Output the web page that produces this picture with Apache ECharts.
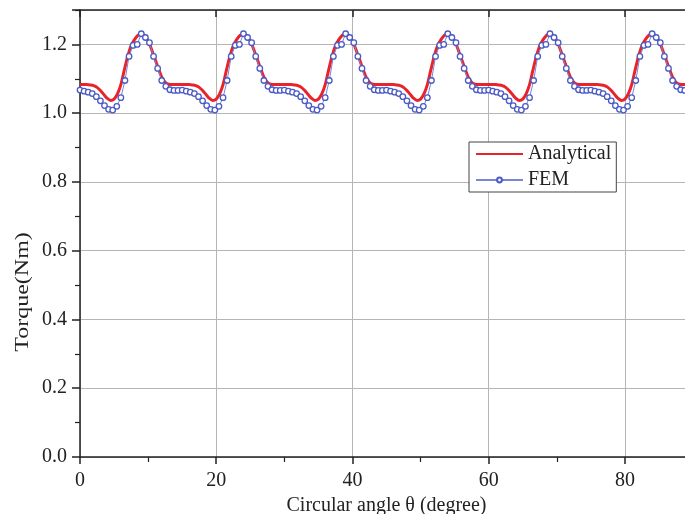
<!DOCTYPE html>
<html><head><meta charset="utf-8">
<script src="https://cdn.jsdelivr.net/npm/echarts@6/dist/echarts.min.js"></script>
<style>html,body{margin:0;padding:0;background:#fff}#c{width:685px;height:514px}</style>
</head><body><div id="c"></div>
<script>
// Sampling steps (degrees)
const analyticalStep = 0.5;
const femStep = 0.6;

// Analytical torque (Nm), 0..90 deg every 0.5 deg
const analytical = [
1.083,1.083,1.083,1.082,1.080,1.075,1.066,1.054,1.043,1.037,1.041,1.056,1.083,1.125,1.165,1.196,1.214,1.226,1.232,1.226,1.210,1.186,1.158,1.130,1.105,1.090,1.084,1.083,1.083,1.083,
1.083,1.083,1.083,1.082,1.080,1.075,1.066,1.054,1.043,1.037,1.041,1.056,1.083,1.125,1.165,1.196,1.214,1.226,1.232,1.226,1.210,1.186,1.158,1.130,1.105,1.090,1.084,1.083,1.083,1.083,
1.083,1.083,1.083,1.082,1.080,1.075,1.066,1.054,1.043,1.037,1.041,1.056,1.083,1.125,1.165,1.196,1.214,1.226,1.232,1.226,1.210,1.186,1.158,1.130,1.105,1.090,1.084,1.083,1.083,1.083,
1.083,1.083,1.083,1.082,1.080,1.075,1.066,1.054,1.043,1.037,1.041,1.056,1.083,1.125,1.165,1.196,1.214,1.226,1.232,1.226,1.210,1.186,1.158,1.130,1.105,1.090,1.084,1.083,1.083,1.083,
1.083,1.083,1.083,1.082,1.080,1.075,1.066,1.054,1.043,1.037,1.041,1.056,1.083,1.125,1.165,1.196,1.214,1.226,1.232,1.226,1.210,1.186,1.158,1.130,1.105,1.090,1.084,1.083,1.083,1.083,
1.083,1.083,1.083,1.082,1.080,1.075,1.066,1.054,1.043,1.037,1.041,1.056,1.083,1.125,1.165,1.196,1.214,1.226,1.232,1.226,1.210,1.186,1.158,1.130,1.105,1.090,1.084,1.083,1.083,1.083,
1.083
];

// FEM torque (Nm), 0..90 deg every 0.6 deg
const fem = [
1.067,1.064,1.061,1.057,1.048,1.036,1.022,1.011,1.009,1.020,1.045,1.095,1.165,1.197,1.200,1.231,1.220,1.205,1.165,1.130,1.095,1.078,1.068,1.066,1.066,
1.067,1.064,1.061,1.057,1.048,1.036,1.022,1.011,1.009,1.020,1.045,1.095,1.165,1.197,1.200,1.231,1.220,1.205,1.165,1.130,1.095,1.078,1.068,1.066,1.066,
1.067,1.064,1.061,1.057,1.048,1.036,1.022,1.011,1.009,1.020,1.045,1.095,1.165,1.197,1.200,1.231,1.220,1.205,1.165,1.130,1.095,1.078,1.068,1.066,1.066,
1.067,1.064,1.061,1.057,1.048,1.036,1.022,1.011,1.009,1.020,1.045,1.095,1.165,1.197,1.200,1.231,1.220,1.205,1.165,1.130,1.095,1.078,1.068,1.066,1.066,
1.067,1.064,1.061,1.057,1.048,1.036,1.022,1.011,1.009,1.020,1.045,1.095,1.165,1.197,1.200,1.231,1.220,1.205,1.165,1.130,1.095,1.078,1.068,1.066,1.066,
1.067,1.064,1.061,1.057,1.048,1.036,1.022,1.011,1.009,1.020,1.045,1.095,1.165,1.197,1.200,1.231,1.220,1.205,1.165,1.130,1.095,1.078,1.068,1.066,1.066,
1.067
];

const seriesNames = ['Analytical', 'FEM'];
const xTitle = 'Circular angle θ (degree)';
const yTitle = 'Torque(Nm)';

const analyticalData = analytical.map((v, i) => [+(i * analyticalStep).toFixed(2), v]);
const femData = fem.map((v, i) => [+(i * femStep).toFixed(2), v]);

const FONT = 'Liberation Serif';
const chart = echarts.init(document.getElementById('c'), null, {renderer: 'canvas'});
chart.setOption({
  animation: false,
  backgroundColor: '#fff',
  grid: {left: 80, top: 10, width: 613, height: 447, containLabel: false, outerBoundsMode: 'none'},
  legend: {
    data: [
      {name: seriesNames[0], itemStyle: {opacity: 0, color: 'rgba(0,0,0,0)', borderColor: 'rgba(0,0,0,0)', borderWidth: 0}},
      {name: seriesNames[1]}
    ],
    orient: 'vertical', align: 'left',
    left: 469, top: 142,
    itemWidth: 47, itemHeight: 6, itemGap: 6,
    padding: [2, 5, 2, 6],
    borderColor: '#444', borderWidth: 1, borderRadius: 0,
    backgroundColor: '#fff',
    textStyle: {fontFamily: FONT, fontSize: 20, color: '#222', lineHeight: 20}
  },
  xAxis: [{
    type: 'value', min: 0, max: 90, interval: 20, position: 'bottom',
    name: xTitle, nameLocation: 'middle', nameGap: 38,
    nameTextStyle: {fontFamily: FONT, fontSize: 20, color: '#222'},
    axisLine: {show: true, onZero: false, lineStyle: {color: '#222', width: 1.5}},
    axisTick: {show: true, inside: false, length: 7, lineStyle: {color: '#222', width: 1.5}},
    minorTick: {show: true, splitNumber: 2, length: 5, lineStyle: {color: '#222', width: 1.2}},
    axisLabel: {fontFamily: FONT, fontSize: 20, color: '#222', margin: 14, showMaxLabel: false},
    splitLine: {show: true, lineStyle: {color: '#b5b5b5', width: 1}}
  }, {
    type: 'value', min: 0, max: 90, interval: 20, position: 'top',
    axisLine: {show: true, onZero: false, lineStyle: {color: '#222', width: 1.5}},
    axisTick: {show: true, inside: true, length: 7, lineStyle: {color: '#222', width: 1.5}},
    axisLabel: {show: false},
    splitLine: {show: false}
  }],
  yAxis: {
    type: 'value', min: 0, max: 1.3, interval: 0.2,
    axisLine: {show: true, onZero: false, lineStyle: {color: '#222', width: 1.5}},
    axisTick: {show: true, inside: false, length: 8, lineStyle: {color: '#222', width: 1.5}},
    minorTick: {show: true, splitNumber: 2, length: 5, lineStyle: {color: '#222', width: 1.2}},
    axisLabel: {fontFamily: FONT, fontSize: 20, color: '#222', margin: 13, showMaxLabel: false,
      formatter: v => v.toFixed(1)},
    splitLine: {show: true, lineStyle: {color: '#b5b5b5', width: 1}}
  },
  graphic: [{
    type: 'text', x: 23, y: 292, rotation: Math.PI / 2, scaleY: 0.8,
    style: {text: yTitle, fontFamily: FONT, fontSize: 24, fill: '#222', align: 'center', verticalAlign: 'middle'}
  }],
  series: [{
    name: seriesNames[0], type: 'line', data: analyticalData, xAxisIndex: 0,
    smooth: 0.3, symbol: 'none', showSymbol: false,
    lineStyle: {color: '#e8232a', width: 3},
    itemStyle: {color: '#e8232a'}
  }, {
    name: seriesNames[1], type: 'line', data: femData, xAxisIndex: 0,
    symbol: 'circle', symbolSize: 5.5, showSymbol: true,
    lineStyle: {color: '#7886d8', width: 1},
    itemStyle: {color: '#fff', borderColor: '#4a5ac6', borderWidth: 1.3}
  }]
});
</script></body></html>
